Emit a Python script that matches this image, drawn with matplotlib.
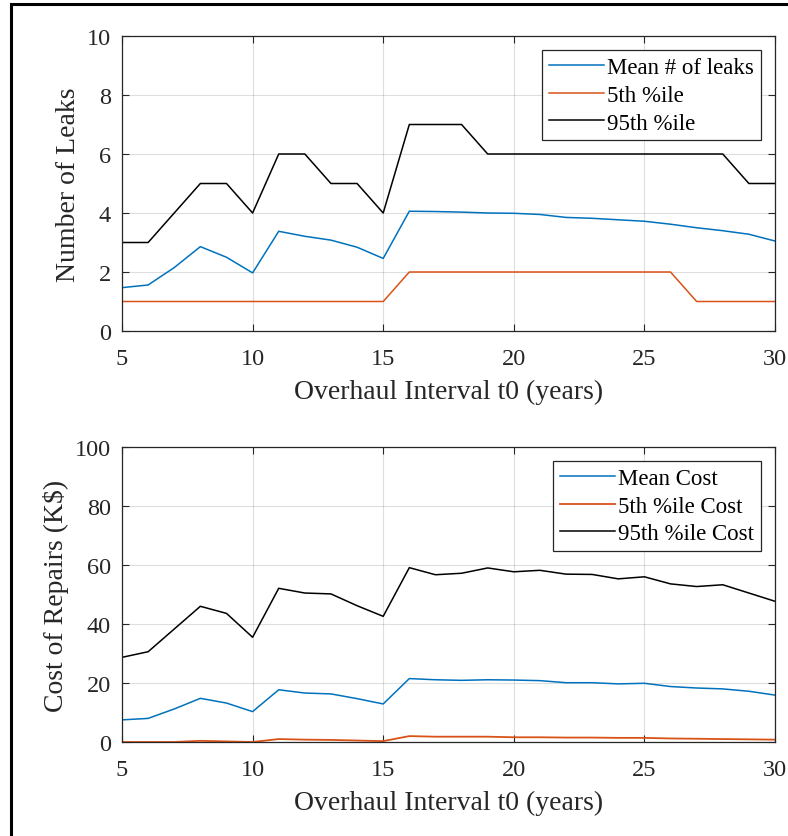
import matplotlib
matplotlib.use("Agg")
import matplotlib.pyplot as plt
from matplotlib.patches import Rectangle

# overhaul interval t0 (years)
t0 = list(range(5, 31))

# number of leaks
mean_leaks = [1.47, 1.56, 2.15, 2.86, 2.50, 1.97, 3.38, 3.21, 3.08, 2.84, 2.46,
              4.06, 4.05, 4.03, 4.00, 3.99, 3.95, 3.85, 3.82, 3.77, 3.72,
              3.62, 3.50, 3.40, 3.28, 3.05]
p5_leaks = [1, 1, 1, 1, 1, 1, 1, 1, 1, 1, 1,
            2, 2, 2, 2, 2, 2, 2, 2, 2, 2, 2,
            1, 1, 1, 1]
p95_leaks = [3, 3, 4, 5, 5, 4, 6, 6, 5, 5, 4,
             7, 7, 7, 6, 6, 6, 6, 6, 6, 6, 6, 6, 6,
             5, 5]

# cost of repairs (K$)
mean_cost = [7.5, 8.0, 11.2, 14.8, 13.2, 10.3, 17.7, 16.6, 16.3, 14.7, 12.9,
             21.5, 21.1, 20.9, 21.1, 21.0, 20.8, 20.1, 20.1, 19.7, 19.9,
             18.8, 18.3, 18.0, 17.2, 15.9]
p5_cost = [0.0, 0.0, 0.0, 0.4, 0.2, 0.0, 1.0, 0.8, 0.7, 0.5, 0.3,
           2.0, 1.8, 1.8, 1.8, 1.6, 1.6, 1.5, 1.5, 1.4, 1.4,
           1.2, 1.1, 1.0, 0.9, 0.8]
p95_cost = [28.7, 30.6, 38.3, 46.0, 43.6, 35.5, 52.1, 50.5, 50.2, 46.2, 42.6,
            59.1, 56.7, 57.2, 59.0, 57.7, 58.2, 56.9, 56.8, 55.3, 56.0,
            53.6, 52.7, 53.3, 50.5, 47.7]

BLUE = "#0072BD"
ORANGE = "#D95319"
BLACK = "#000000"

plt.rcParams.update({
    "font.family": ["Liberation Serif", "DejaVu Serif"],
    "font.size": 16,
    "axes.edgecolor": "#262626",
    "axes.linewidth": 0.9,
    "xtick.direction": "in",
    "ytick.direction": "in",
    "xtick.color": "#262626",
    "ytick.color": "#262626",
    "xtick.labelcolor": "#262626",
    "ytick.labelcolor": "#262626",
    "xtick.major.size": 5,
    "ytick.major.size": 5,
    "xtick.top": True,
    "ytick.right": True,
})

fig = plt.figure(figsize=(7.88, 8.37), dpi=100)
W, H = 788, 837


def make_axes(top, bottom):
    return fig.add_axes([122 / W, 1 - bottom / H, 653 / W, (bottom - top) / H])


def finish(ax, ymax, ylabel, yticks):
    ax.set_xlim(5, 30)
    ax.set_ylim(0, ymax)
    ax.set_xticks([5, 10, 15, 20, 25, 30])
    ax.set_yticks(yticks)
    ax.grid(True, color="#262626", alpha=0.15, linewidth=0.8)
    ax.set_axisbelow(True)
    ax.tick_params(axis="x", labelsize=17.5, pad=12)
    ax.tick_params(axis="y", labelsize=17.5, pad=8)
    ax.set_xlabel("Overhaul Interval t0 (years)", fontsize=20, labelpad=7, color="#262626")
    ax.set_ylabel(ylabel, fontsize=20, labelpad=4, color="#262626")
    leg = ax.legend(loc="upper right", fontsize=16.5, fancybox=False, framealpha=1,
                    edgecolor="#262626", handlelength=2.4, handletextpad=0.15,
                    borderpad=0.3, labelspacing=0.3, borderaxespad=0.6)
    leg.get_frame().set_linewidth(0.9)


# ── top: number of leaks ───────────────────────────────────────────────────
ax1 = make_axes(37, 332)
ax1.plot(t0, mean_leaks, color=BLUE, lw=1.1, label="Mean # of leaks")
ax1.plot(t0, p5_leaks, color=ORANGE, lw=1.1, label="5th %ile")
ax1.plot(t0, p95_leaks, color=BLACK, lw=1.1, label="95th %ile")
finish(ax1, 10, "Number of Leaks", [0, 2, 4, 6, 8, 10])

# ── bottom: cost of repairs ────────────────────────────────────────────────
ax2 = make_axes(448, 743)
ax2.plot(t0, mean_cost, color=BLUE, lw=1.1, label="Mean Cost")
ax2.plot(t0, p5_cost, color=ORANGE, lw=1.3, label="5th %ile Cost")
ax2.plot(t0, p95_cost, color=BLACK, lw=1.1, label="95th %ile Cost")
finish(ax2, 100, "Cost of Repairs (K$)", [0, 20, 40, 60, 80, 100])

# outer frame (only left/top edges visible in the crop)
fig.patches.append(Rectangle((11 / W, -0.1), 1.2, 1.1 - 5 / H,
                             transform=fig.transFigure, fill=False,
                             edgecolor="black", linewidth=2.2))

fig.savefig("out.png", dpi=100)
